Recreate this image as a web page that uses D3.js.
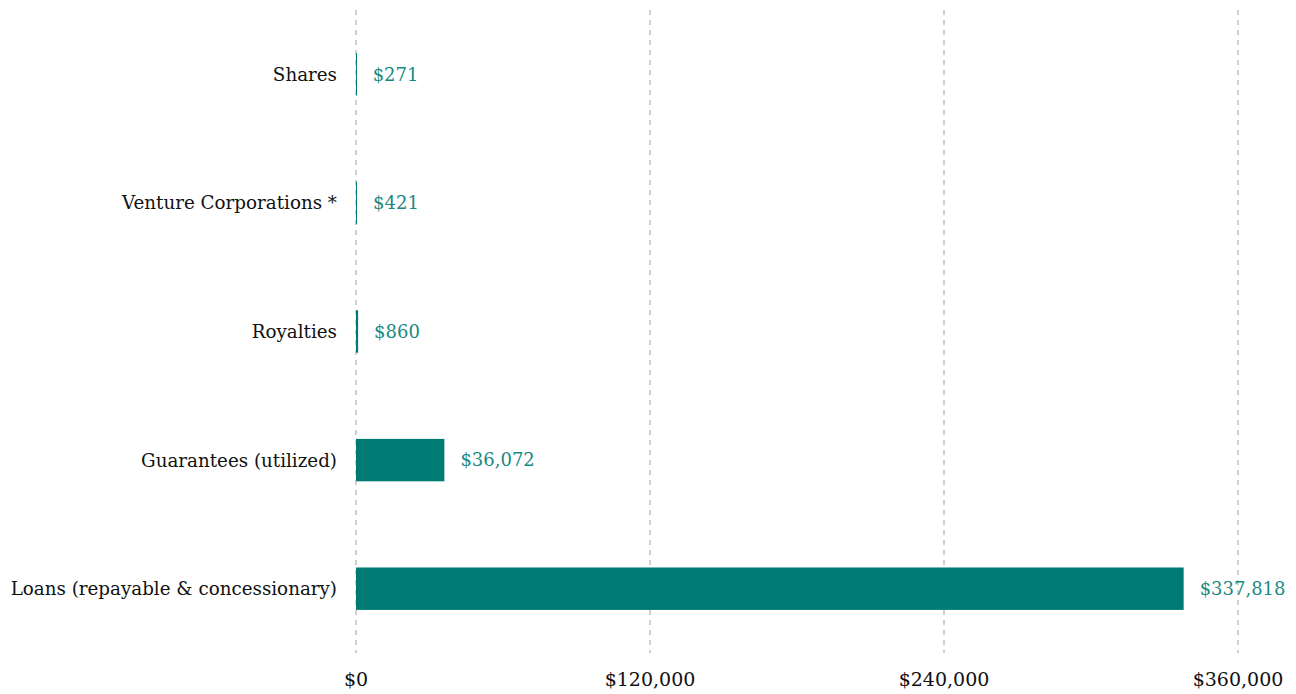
<!DOCTYPE html>
<html>
<head>
<meta charset="utf-8">
<script src="https://cdn.jsdelivr.net/npm/d3@7"></script>
<style>
  body { margin: 0; background: #fff; }
  svg text { font-family: Georgia, "DejaVu Serif", "Liberation Serif", serif; }
</style>
</head>
<body>
<svg id="canvas" width="1296" height="694"></svg>
<script>
const categories = ["Shares", "Venture Corporations *", "Royalties", "Guarantees (utilized)", "Loans (repayable & concessionary)"];
const values = [271, 421, 860, 36072, 337818];
const tickValues = [0, 120000, 240000, 360000];

const svg = d3.select("#canvas");
const width = 1296;
const height = 694;
const margin = { top: 10, right: 58, bottom: 41, left: 356 };

const x = d3.scaleLinear()
    .domain([0, 360000])
    .range([margin.left, width - margin.right]);

const y = d3.scaleBand()
    .domain(categories)
    .range([margin.top, height - margin.bottom])
    .paddingInner(0.67)
    .paddingOuter(0.335);

const fmt = d => "$" + d3.format(",")(d);

// grid
svg.append("g")
    .selectAll("line")
    .data(tickValues)
    .join("line")
    .attr("x1", d => x(d))
    .attr("x2", d => x(d))
    .attr("y1", margin.top)
    .attr("y2", height - margin.bottom)
    .attr("stroke", "#d0d0d0")
    .attr("stroke-width", 2)
    .attr("stroke-dasharray", "5,5");

// x tick labels
svg.append("g")
    .selectAll("text")
    .data(tickValues)
    .join("text")
    .attr("x", d => x(d))
    .attr("y", 686)
    .attr("text-anchor", "middle")
    .attr("font-size", 19)
    .attr("fill", "#111")
    .text(fmt);

const data = categories.map((c, i) => ({ c, v: values[i] }));

svg.append("g")
    .selectAll("rect")
    .data(data)
    .join("rect")
    .attr("x", x(0))
    .attr("y", d => y(d.c))
    .attr("width", d => Math.max(1, x(d.v) - x(0)))
    .attr("height", y.bandwidth())
    .attr("fill", "#007b73");

svg.append("g")
    .selectAll("text")
    .data(data)
    .join("text")
    .attr("x", d => x(d.v) + 16)
    .attr("y", d => y(d.c) + y.bandwidth() / 2)
    .attr("dy", "0.35em")
    .attr("font-size", 18)
    .attr("fill", "#1a8a80")
    .text(d => fmt(d.v));

svg.append("g")
    .selectAll("text")
    .data(categories)
    .join("text")
    .attr("x", x(0) - 19)
    .attr("y", d => y(d) + y.bandwidth() / 2)
    .attr("dy", "0.35em")
    .attr("text-anchor", "end")
    .attr("font-size", 18.3)
    .attr("fill", "#111")
    .text(d => d);
</script>
</body>
</html>
